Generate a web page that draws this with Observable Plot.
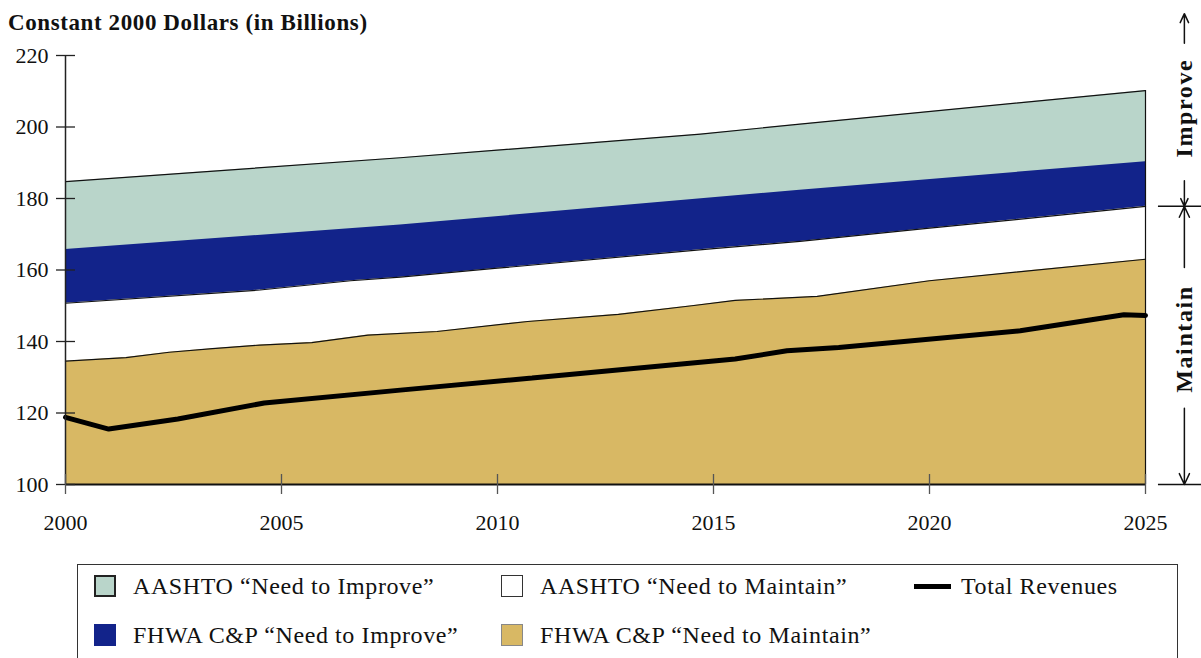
<!DOCTYPE html>
<html><head><meta charset="utf-8">
<script src="https://cdn.jsdelivr.net/npm/d3@7"></script>
<script src="https://cdn.jsdelivr.net/npm/@observablehq/plot@0.6"></script>
<style>
body{margin:0;background:#fff;width:1201px;height:658px;overflow:hidden;position:relative;font-family:"Liberation Serif",serif;color:#111}
#title{position:absolute;left:8px;top:12px;font-weight:bold;font-size:23px;line-height:22px;letter-spacing:0.6px;white-space:nowrap;z-index:2}
#chart{position:absolute;left:0;top:0}
#chart svg g[aria-label="text"] text{letter-spacing:1.6px}
#legend{position:absolute;left:77px;top:564px;width:1101px;height:130px;border:1.5px solid #333;box-sizing:border-box}
.item{position:absolute;display:flex;align-items:center;font-size:24px;letter-spacing:0.6px;white-space:nowrap;height:30px}
.sw{width:22px;height:22px;box-sizing:border-box;margin-right:17px}
.ln{width:37px;height:5px;background:#000;margin-right:10px}
</style>
</head><body>
<div id="title">Constant 2000 Dollars (in Billions)</div>
<div id="chart"></div>
<div id="legend"></div>
<script>
// ---- data (values in constant 2000 dollars, billions) ----
const aashtoImproveYears  = [2000, 2007.75, 2014.7, 2017, 2025];
const aashtoImproveValues = [184.7, 191.4, 198.0, 200.8, 210.2];

const fhwaImproveYears  = [2000, 2007.75, 2017, 2025];
const fhwaImproveValues = [165.7, 172.6, 182.3, 190.3];

const aashtoMaintainYears  = [2000, 2004.5, 2006.6, 2007.75, 2010, 2015, 2017, 2020, 2022, 2025];
const aashtoMaintainValues = [150.7, 154.4, 157.0, 158.0, 160.5, 166.0, 168.0, 171.7, 174.1, 177.8];

const fhwaMaintainYears  = [2000, 2001.4, 2002.4, 2003.4, 2004.5, 2005.7, 2007, 2008.6, 2010.7, 2012.8, 2014.5, 2015.5, 2017.4, 2020, 2025];
const fhwaMaintainValues = [134.5, 135.5, 137.0, 138.0, 139.0, 139.7, 141.8, 142.8, 145.6, 147.6, 150.0, 151.5, 152.6, 157.0, 163.0];

const revenueYears  = [2000, 2001, 2002.6, 2004.6, 2007.75, 2010.8, 2015.5, 2016.7, 2017.9, 2022.1, 2024.5, 2025];
const revenueValues = [118.8, 115.5, 118.3, 122.8, 126.4, 129.8, 135.1, 137.4, 138.3, 143.0, 147.5, 147.3];

const yTicks = [100, 120, 140, 160, 180, 200, 220];
const xTicks = [2000, 2005, 2010, 2015, 2020, 2025];

const seriesColors = {
  aashtoImprove: "#b9d5ca",
  fhwaImprove: "#12238a",
  aashtoMaintain: "#ffffff",
  fhwaMaintain: "#d8b864"
};
const legendLabels = [
  "AASHTO “Need to Improve”", "AASHTO “Need to Maintain”", "Total Revenues",
  "FHWA C&P “Need to Improve”", "FHWA C&P “Need to Maintain”"
];
const bracketLabels = ["Improve", "Maintain"];

// ---- build ----
const rows = (xs, vs) => xs.map((x, i) => ({x, y: vs[i]}));
const aI = rows(aashtoImproveYears, aashtoImproveValues);
const fI = rows(fhwaImproveYears, fhwaImproveValues);
const aM = rows(aashtoMaintainYears, aashtoMaintainValues);
const fM = rows(fhwaMaintainYears, fhwaMaintainValues);
const rev = rows(revenueYears, revenueValues);

const yMin = yTicks[0], yMax = yTicks[yTicks.length - 1];
const split = aashtoMaintainValues[aashtoMaintainValues.length - 1];
const annX = 2025.9;

const area = (d, fill) => Plot.areaY(d, {x: "x", y1: () => yMin, y2: "y", fill});

const plot = Plot.plot({
  width: 1201, height: 540,
  marginTop: 55, marginBottom: 56, marginLeft: 65, marginRight: 56,
  x: {domain: [xTicks[0], xTicks[xTicks.length - 1]]},
  y: {domain: [yMin, yMax]},
  style: {fontFamily: "Liberation Serif", fontSize: "22px", color: "#111", background: "transparent", overflow: "visible"},
  marks: [
    area(aI, seriesColors.aashtoImprove),
    area(fI, seriesColors.fhwaImprove),
    area(aM, seriesColors.aashtoMaintain),
    area(fM, seriesColors.fhwaMaintain),
    Plot.line(aI, {x: "x", y: "y", stroke: "#111", strokeWidth: 1.2}),
    Plot.line(aM, {x: "x", y: "y", stroke: "#111", strokeWidth: 1.2}),
    Plot.line(fM, {x: "x", y: "y", stroke: "#111", strokeWidth: 1.2}),
    Plot.ruleX([xTicks[xTicks.length - 1]], {y1: yMin, y2: aashtoImproveValues[aashtoImproveValues.length - 1], stroke: "#111", strokeWidth: 1.2}),
    Plot.line(rev, {x: "x", y: "y", stroke: "#000", strokeWidth: 5, strokeLinejoin: "miter"}),
    Plot.ruleX([xTicks[0]], {y1: yMin, y2: yMax, stroke: "#222", strokeWidth: 1.5}),
    Plot.ruleY([yMin], {stroke: "#111", strokeWidth: 2}),
    Plot.axisY({ticks: yTicks, tickSize: 0, tickPadding: 17, label: null, fontSize: 22}),
    Plot.axisY({ticks: yTicks, tickSize: 19, dx: 10, tickFormat: () => "", label: null, stroke: "#222", strokeWidth: 1.3}),
    Plot.axisX({ticks: xTicks, tickSize: 0, tickPadding: 30, tickFormat: d => String(d), label: null, fontSize: 22}),
    Plot.axisX({ticks: xTicks, tickSize: 20, dy: -10, tickFormat: () => "", label: null, stroke: "#555", strokeWidth: 1.3}),
    // right-hand bracket
    Plot.ruleY([split, yMin], {x1: () => 2025.3, x2: () => 2026.4, stroke: "#111", strokeWidth: 1.5}),
    Plot.arrow([
      {a: 223.4, b: 231.7}, {a: 185.0, b: split}, {a: 160.7, b: split}, {a: 121.3, b: yMin}
    ], {x1: () => annX, x2: () => annX, y1: "a", y2: "b", stroke: "#111", strokeWidth: 1.5, headLength: 12, headAngle: 50}),
    Plot.text([{t: bracketLabels[0], y: 205.3}, {t: bracketLabels[1], y: 140.7}],
      {x: () => annX, y: "y", text: "t", rotate: -90, fontSize: 24, fontWeight: "bold", fill: "#111"})
  ]
});
document.getElementById("chart").appendChild(plot);

// ---- legend ----
const legendItems = [
  {label: legendLabels[0], color: seriesColors.aashtoImprove, border: "2px solid #222", left: 16, top: 6},
  {label: legendLabels[1], color: seriesColors.aashtoMaintain, border: "1.5px solid #333", left: 423, top: 6},
  {label: legendLabels[2], line: true, left: 836, top: 6},
  {label: legendLabels[3], color: seriesColors.fhwaImprove, border: "none", left: 16, top: 55},
  {label: legendLabels[4], color: seriesColors.fhwaMaintain, border: "1px solid #888", left: 423, top: 55}
];
const lg = document.getElementById("legend");
for (const it of legendItems) {
  const d = document.createElement("div");
  d.className = "item";
  d.style.left = it.left + "px";
  d.style.top = it.top + "px";
  const s = document.createElement("span");
  if (it.line) s.className = "ln";
  else { s.className = "sw"; s.style.background = it.color; s.style.border = it.border; }
  d.appendChild(s);
  d.appendChild(document.createTextNode(it.label));
  lg.appendChild(d);
}
</script>
</body></html>
